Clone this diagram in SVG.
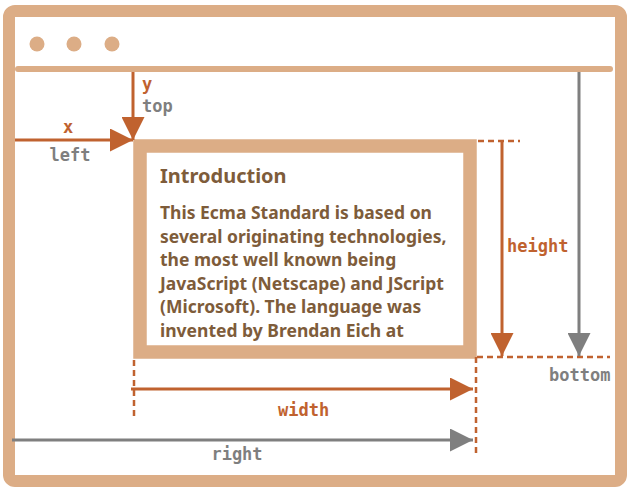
<svg xmlns="http://www.w3.org/2000/svg" width="630" height="489" viewBox="0 0 630 489">
<defs>
<style>
.frame{fill:none;stroke:#dcad86}
.lbl{font-family:"DejaVu Sans Mono","Liberation Mono",monospace;font-size:17px;font-weight:bold}
.o{fill:#c0622f}
.g{fill:#7f7f7f}
.ol{stroke:#c0622f;stroke-width:3;fill:none}
.gl{stroke:#7f7f7f;stroke-width:3;fill:none}
.dash{stroke:#c0622f;stroke-width:2.5;stroke-dasharray:6 4;fill:none}
.body{font-family:"Noto Sans","Open Sans",sans-serif;font-weight:bold;font-size:17.5px;fill:#7e5c3a}
.title{font-family:"Noto Sans","Open Sans",sans-serif;font-weight:bold;font-size:20px;fill:#7e5c3a}
</style>
<marker id="ao" markerUnits="userSpaceOnUse" markerWidth="23" markerHeight="23" refX="23" refY="11.5" orient="auto"><path d="M0,0 L23,11.5 L0,23 z" fill="#c0622f"/></marker>
<marker id="ag" markerUnits="userSpaceOnUse" markerWidth="23" markerHeight="23" refX="23" refY="11.5" orient="auto"><path d="M0,0 L23,11.5 L0,23 z" fill="#7f7f7f"/></marker>
</defs>
<g id="window">
<rect class="frame" x="9" y="11" width="612" height="470" rx="6" stroke-width="12"/>
<rect x="15" y="66" width="598" height="6" rx="3" fill="#dcad86"/>
<circle cx="37" cy="44" r="7.5" fill="#dcad86"/>
<circle cx="74" cy="44" r="7.5" fill="#dcad86"/>
<circle cx="112" cy="44" r="7.5" fill="#dcad86"/>
</g>
<g id="element">
<rect class="frame" x="140" y="146" width="330" height="206" stroke-width="13.5"/>
<text class="title" x="160" y="183">Introduction</text>
<text class="body" x="160" y="219">This Ecma Standard is based on</text>
<text class="body" x="160" y="242.5">several originating technologies,</text>
<text class="body" x="160" y="266">the most well known being</text>
<text class="body" x="160" y="289.5">JavaScript (Netscape) and JScript</text>
<text class="body" x="160" y="313">(Microsoft). The language was</text>
<text class="body" x="160" y="336.5">invented by Brendan Eich at</text>
</g>
<g id="connectors">
<line class="dash" x1="478" y1="141" x2="520" y2="141"/>
<line class="dash" x1="477" y1="357" x2="610" y2="357"/>
<line class="dash" x1="476" y1="357" x2="476" y2="456"/>
<line class="dash" x1="134" y1="360" x2="134" y2="420"/>
<path class="ol" d="M133,72 V140" marker-end="url(#ao)"/>
<path class="ol" d="M15,140 H133" marker-end="url(#ao)"/>
<path class="ol" d="M502,141 V356" marker-end="url(#ao)"/>
<path class="gl" d="M579,72 V356" marker-end="url(#ag)"/>
<path class="ol" d="M131,389 H473" marker-end="url(#ao)"/>
<path class="gl" d="M12,440 H473" marker-end="url(#ag)"/>
</g>
<g id="labels">
<text class="lbl o" x="142" y="90">y</text>
<text class="lbl g" x="142" y="112">top</text>
<text class="lbl o" x="68" y="133" text-anchor="middle">x</text>
<text class="lbl g" x="70" y="161" text-anchor="middle">left</text>
<text class="lbl o" x="507" y="252">height</text>
<text class="lbl g" x="549" y="381">bottom</text>
<text class="lbl o" x="278" y="416">width</text>
<text class="lbl g" x="237" y="460" text-anchor="middle">right</text>
</g>
</svg>
